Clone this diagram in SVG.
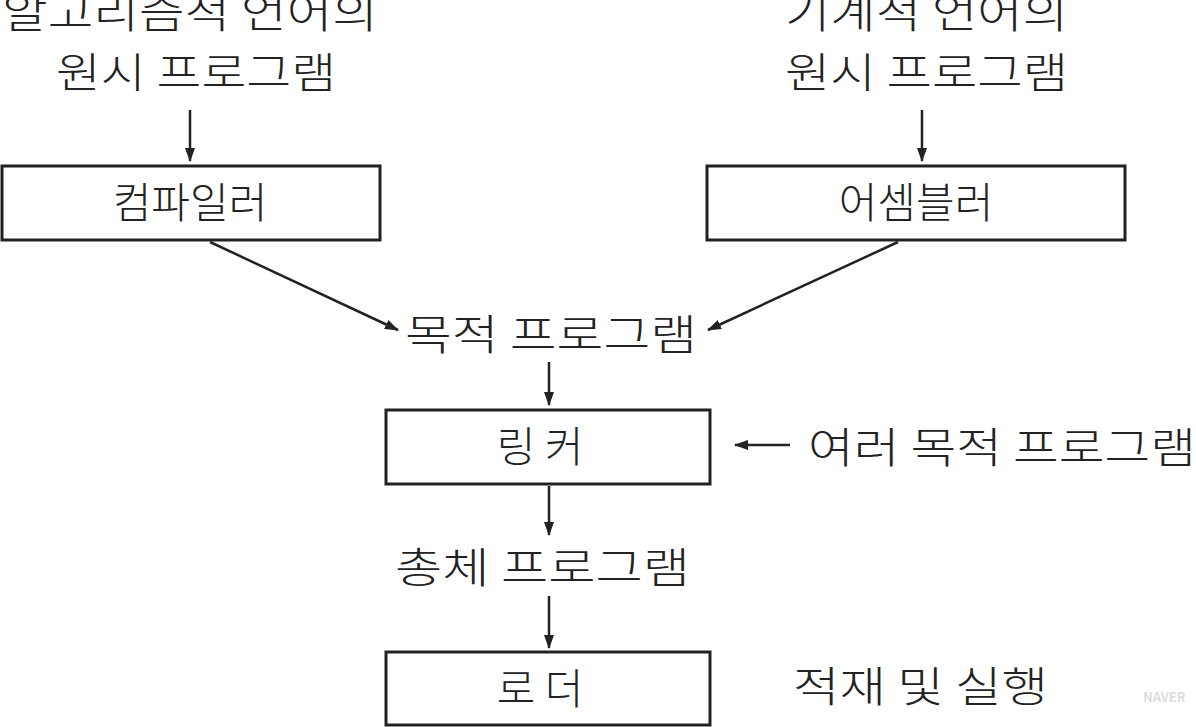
<svg xmlns="http://www.w3.org/2000/svg" width="1196" height="727" viewBox="0 0 1196 727">
<style>
text{font-family:"Noto Sans CJK KR","Noto Sans",sans-serif;font-size:42px;font-weight:300;fill:#222}
.box{fill:#fff;stroke:#222;stroke-width:3}
.c line{stroke:#222;stroke-width:2.5;marker-end:url(#a)}
</style>
<defs><marker id="a" markerWidth="14" markerHeight="10" refX="13" refY="5" orient="auto" markerUnits="userSpaceOnUse"><path d="M0,0L14,5L0,10z" fill="#222"/></marker></defs>
<rect width="1196" height="727" fill="#fff"/>
<g id="src1"><text x="2" y="28" textLength="376" lengthAdjust="spacingAndGlyphs">알고리즘적 언어의</text><text x="56" y="88" textLength="280" lengthAdjust="spacingAndGlyphs">원시 프로그램</text></g>
<g id="src2"><text x="785" y="28" textLength="283" lengthAdjust="spacingAndGlyphs">기계적 언어의</text><text x="785" y="88" textLength="283" lengthAdjust="spacingAndGlyphs">원시 프로그램</text></g>
<g id="compiler"><rect class="box" x="2" y="166" width="378" height="74"/><text x="190" y="218" text-anchor="middle">컴파일러</text></g>
<g id="assembler"><rect class="box" x="707" y="166" width="418" height="74"/><text x="916" y="218" text-anchor="middle">어셈블러</text></g>
<g id="obj"><text x="405" y="350" textLength="292" lengthAdjust="spacingAndGlyphs">목적 프로그램</text></g>
<g id="linker"><rect class="box" x="386" y="410" width="324" height="74"/><text x="540" y="462" text-anchor="middle">링 커</text></g>
<g id="multi"><text x="808" y="463" textLength="388" lengthAdjust="spacingAndGlyphs">여러 목적 프로그램</text></g>
<g id="total"><text x="395" y="583" textLength="295" lengthAdjust="spacingAndGlyphs">총체 프로그램</text></g>
<g id="loader"><rect class="box" x="386" y="652" width="324" height="73"/><text x="540" y="704" text-anchor="middle">로 더</text></g>
<g id="exec"><text x="793" y="702" textLength="255" lengthAdjust="spacingAndGlyphs">적재 및 실행</text></g>
<text x="1143" y="702" style="font-size:13px;font-weight:700;fill:#ddd">NAVER</text>
<g class="c">
<line x1="190" y1="110" x2="190" y2="161"/>
<line x1="922" y1="110" x2="922" y2="161"/>
<line x1="210" y1="242" x2="398" y2="330"/>
<line x1="898" y1="242" x2="708" y2="330"/>
<line x1="549" y1="362" x2="549" y2="405"/>
<line x1="790" y1="445" x2="735" y2="445"/>
<line x1="549" y1="486" x2="549" y2="535"/>
<line x1="549" y1="596" x2="549" y2="648"/>
</g>
</svg>
